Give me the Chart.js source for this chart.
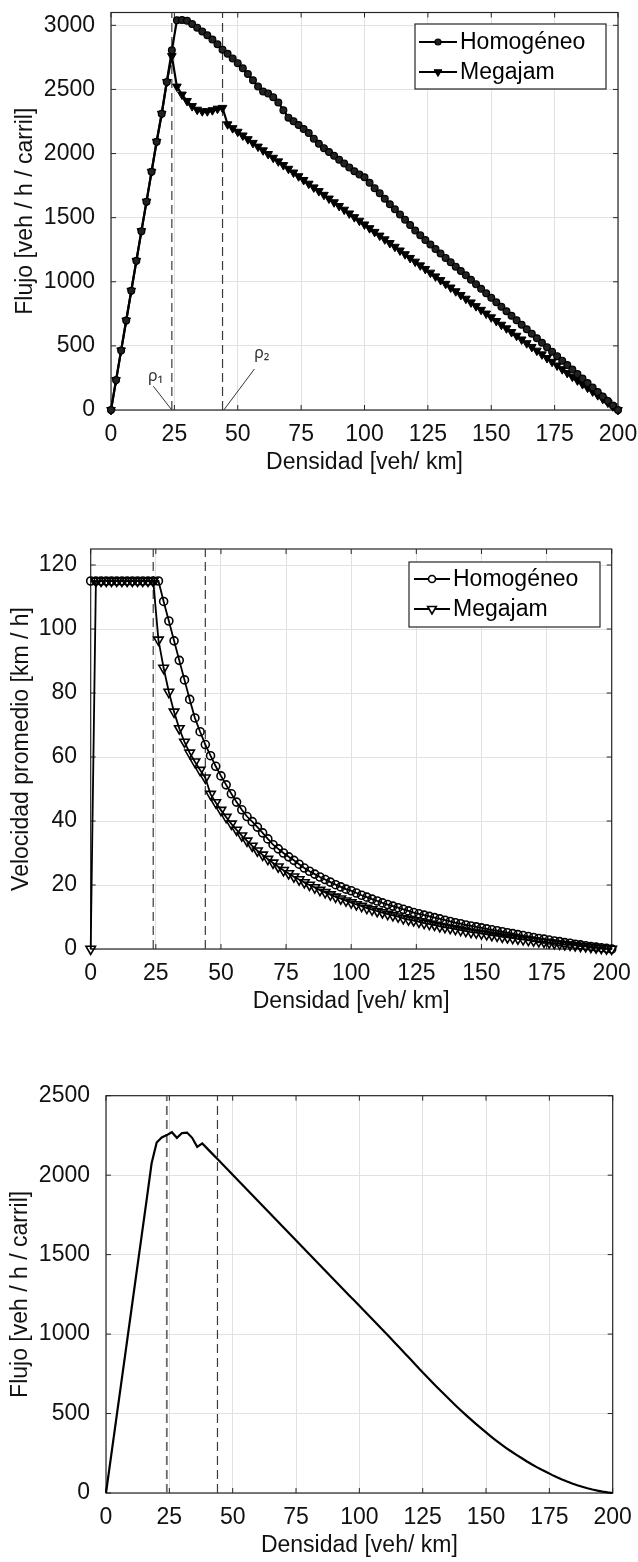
<!DOCTYPE html>
<html><head><meta charset="utf-8">
<script src="https://cdn.jsdelivr.net/npm/chart.js@4.4.1/dist/chart.umd.min.js"></script>
<style>
html,body{margin:0;padding:0;background:#fff;width:638px;height:1562px;overflow:hidden}
canvas{position:absolute;left:0;display:block}
</style></head><body>
<canvas id="c1" width="638" height="490" style="top:0px"></canvas>
<canvas id="c2" width="638" height="540" style="top:490px"></canvas>
<canvas id="c3" width="638" height="532" style="top:1030px"></canvas>
<script>
// ---------- DATA ----------
const densidad = [0,2,4,6,8,10,12,14,16,18,20,22,24,26,28,30,32,34,36,38,40,42,44,46,48,50,52,54,56,58,60,62,64,66,68,70,72,74,76,78,80,82,84,86,88,90,92,94,96,98,100,102,104,106,108,110,112,114,116,118,120,122,124,126,128,130,132,134,136,138,140,142,144,146,148,150,152,154,156,158,160,162,164,166,168,170,172,174,176,178,180,182,184,186,188,190,192,194,196,198,200];

const seriesNombres = ['Homogéneo','Megajam'];

const flujoHomogeneo = [
 0,233,465,698,930,1163,1395,1625,1858,2092,
 2310,2558,2805,3040,3042,3035,3010,2982,2952,2922,
 2890,2852,2810,2778,2742,2705,2665,2620,2572,2522,
 2484,2468,2440,2398,2338,2280,2252,2222,2192,2160,
 2116,2076,2042,2012,1982,1952,1922,1892,1862,1836,
 1815,1772,1730,1690,1648,1605,1565,1524,1484,1443,
 1400,1362,1325,1290,1255,1220,1186,1152,1118,1084,
 1050,1015,980,945,910,875,840,805,770,735,
 700,665,630,595,560,525,490,455,420,385,
 350,315,280,245,210,175,140,105,70,35,
 0];

const flujoMegajam = [
 0,233,465,698,930,1163,1395,1625,1858,2092,
 2310,2558,2760,2522,2460,2410,2370,2342,2330,2330,
 2338,2350,2356,2228,2198,2170,2141,2112,2083,2054,
 2025,1996,1967,1939,1910,1881,1852,1823,1794,1765,
 1736,1707,1678,1649,1620,1591,1562,1533,1504,1476,
 1447,1418,1389,1360,1331,1302,1273,1244,1215,1186,
 1157,1128,1100,1071,1042,1013,984,955,926,897,
 868,839,810,781,752,723,694,665,637,608,
 579,550,521,492,463,434,405,376,347,318,
 289,260,231,202,174,145,116,87,58,29,
 0];

const velHomogeneo = [
 115,115,115,115,115,115,115,115,115,115,
 115,115,115,115,108.6,102.5,96.3,90.2,84.1,78.0,
 72.2,67.9,63.9,60.4,57.1,54.1,51.3,48.5,45.9,43.5,
 41.4,39.8,38.1,36.3,34.4,32.6,31.3,30.0,28.8,27.7,
 26.5,25.3,24.3,23.4,22.5,21.7,20.9,20.1,19.4,18.7,
 18.2,17.5,16.8,16.2,15.6,15.0,14.4,13.9,13.4,12.9,
 12.4,11.9,11.4,11.0,10.6,10.2,9.8,9.4,9.0,8.6,
 8.2,7.9,7.5,7.2,6.9,6.6,6.3,6.0,5.7,5.4,
 5.1,4.8,4.5,4.2,3.9,3.6,3.3,3.1,2.8,2.5,
 2.3,2.0,1.8,1.5,1.3,1.0,0.8,0.6,0.4,0.2,
 0];

const velMegajam = [
 0,115,115,115,115,115,115,115,115,115,
 115,115,115,96.6,87.8,80.3,74.1,68.9,64.7,61.3,
 58.5,55.9,53.5,48.4,45.8,43.4,41.2,39.1,37.2,35.4,
 33.8,32.2,30.7,29.4,28.1,26.9,25.7,24.6,23.6,22.6,
 21.7,20.8,20.0,19.2,18.4,17.7,17.0,16.3,15.7,15.1,
 14.5,13.9,13.4,12.8,12.3,11.8,11.4,10.9,10.5,10.1,
 9.6,9.2,8.9,8.5,8.1,7.8,7.5,7.1,6.8,6.5,
 6.2,5.9,5.6,5.3,5.1,4.8,4.6,4.3,4.1,3.8,
 3.6,3.4,3.2,3.0,2.8,2.6,2.4,2.2,2.0,1.8,
 1.6,1.4,1.3,1.1,0.9,0.8,0.6,0.4,0.3,0.1,
 0];

const flujoPromedio = [
 0,230,460,690,920,1150,1380,1610,1840,2075,
 2205,2237,2252,2270,2235,2265,2268,2235,2178,2200,
 2167,2134,2101,2068,2035,2002,1969,1936,1903,1870,
 1837,1804,1771,1738,1705,1672,1639,1606,1573,1540,
 1507,1474,1441,1408,1375,1342,1309,1276,1243,1211,
 1178,1145,1112,1079,1046,1013,980,946,912,878,
 844,810,776,743,710,677,645,613,582,551,
 521,492,463,435,408,381,355,330,306,283,
 261,240,220,200,181,163,146,130,114,99,
 85,72,60,49,39,30,22,15,9,4,
 0];

const rhoCriticos = [24, 44];
const rhoEtiquetas = ['ρ₁', 'ρ₂'];

const ticksDensidad = [0,25,50,75,100,125,150,175,200];
const ticksFlujo1 = [0,500,1000,1500,2000,2500,3000];
const ticksVel = [0,20,40,60,80,100,120];
const ticksFlujo3 = [0,500,1000,1500,2000,2500];

// ---------- HELPERS ----------
const FONT = '"Liberation Sans", Arial, Helvetica, sans-serif';
Chart.defaults.font.family = FONT;
const pts = ys => densidad.map((d,i)=>({x:d, y:ys[i]}));
const dashSet = (rho, ymax, col, w) => ({
  label:'', data:[{x:rho,y:0},{x:rho,y:ymax}], borderColor:col||'#3a3a3a', borderWidth:w||1.2,
  borderDash:[9,5], pointRadius:0, order:10, clip:false
});

function xScale(){
  return {
    type:'linear', min:0, max:200,
    afterBuildTicks: s => { s.ticks = ticksDensidad.map(v=>({value:v})); },
    ticks:{ padding:0, color:'#111', font:{size:23, lineHeight:1}, maxRotation:0, autoSkip:false, callback:v=>String(v) },
    grid:{ color:'#e1e1e1', lineWidth:1, drawTicks:true, tickLength:13.5, tickColor:'rgba(0,0,0,0)' },
    border:{ display:false },
    title:{ display:true, text:'Densidad [veh/ km]', color:'#111', font:{size:23, lineHeight:1}, padding:{top:0,bottom:0} },
    afterFit: s => { s.height = 64.5; }
  };
}
function yScale(max, tickArr, title, width, tl, tpad){
  return {
    type:'linear', min:0, max:max,
    afterBuildTicks: s => { s.ticks = tickArr.map(v=>({value:v})); },
    ticks:{ padding:0, color:'#111', font:{size:23, lineHeight:1}, autoSkip:false, callback:v=>String(v) },
    grid:{ color:'#e1e1e1', lineWidth:1, drawTicks:true, tickLength:tl, tickColor:'rgba(0,0,0,0)' },
    border:{ display:false },
    title:{ display:true, text:title, color:'#111', font:{size:23, lineHeight:1}, padding:{top:tpad,bottom:0} },
    afterFit: s => { s.width = width; }
  };
}

const framePlugin = {
  id:'marco',
  beforeDatasetsDraw(chart){
    const {ctx, chartArea:a, scales:{x,y}} = chart;
    ctx.save();
    ctx.strokeStyle = '#262626'; ctx.lineWidth = 1.2;
    ctx.strokeRect(a.left, a.top, a.right-a.left, a.bottom-a.top);
    ctx.lineWidth = 1;
    const L = 5;
    ctx.beginPath();
    x.ticks.forEach(t => {
      const px = x.getPixelForValue(t.value);
      ctx.moveTo(px, a.bottom); ctx.lineTo(px, a.bottom-L);
      ctx.moveTo(px, a.top); ctx.lineTo(px, a.top+L);
    });
    y.ticks.forEach(t => {
      const py = y.getPixelForValue(t.value);
      ctx.moveTo(a.left, py); ctx.lineTo(a.left+L, py);
      ctx.moveTo(a.right, py); ctx.lineTo(a.right-L, py);
    });
    ctx.stroke();
    ctx.restore();
  }
};

function drawMarker(ctx, style, r, x, y, fill, stroke, lw){
  ctx.beginPath();
  if (style === 'circle') {
    ctx.arc(x, y, r, 0, Math.PI*2);
  } else {
    for (let k=0;k<3;k++){
      const ang = Math.PI + k*2*Math.PI/3;
      const px = x + Math.sin(ang)*r, py = y - Math.cos(ang)*r;
      if (k===0) ctx.moveTo(px,py); else ctx.lineTo(px,py);
    }
    ctx.closePath();
  }
  ctx.fillStyle = fill; ctx.fill();
  ctx.strokeStyle = stroke; ctx.lineWidth = lw; ctx.stroke();
}

const legendPlugin = {
  id:'cajaLeyenda',
  afterDatasetsDraw(chart, args, o){
    if (!o || !o.box) return;
    const ctx = chart.ctx;
    const [x1,y1,x2,y2] = o.box;
    ctx.save();
    ctx.fillStyle = '#fff'; ctx.fillRect(x1,y1,x2-x1,y2-y1);
    ctx.strokeStyle = '#262626'; ctx.lineWidth = 1.2; ctx.strokeRect(x1,y1,x2-x1,y2-y1);
    const entries = chart.data.datasets.filter(d => d.label);
    entries.forEach((ds, i) => {
      const yy = o.rows[i];
      ctx.beginPath(); ctx.moveTo(o.line[0], yy); ctx.lineTo(o.line[1], yy);
      ctx.strokeStyle = ds.borderColor; ctx.lineWidth = ds.borderWidth; ctx.stroke();
      const mx = (o.line[0]+o.line[1])/2;
      drawMarker(ctx, ds.pointStyle, o.radii[i], mx, yy, o.fill || ds.pointBackgroundColor, ds.pointBorderColor, ds.pointBorderWidth);
      ctx.fillStyle = '#000'; ctx.font = '23px ' + FONT; ctx.textBaseline = 'middle'; ctx.textAlign = 'left';
      ctx.fillText(ds.label, o.textX, yy+1);
    });
    ctx.restore();
  }
};

const rhoPlugin = {
  id:'anotRho',
  afterDatasetsDraw(chart, args, o){
    if (!o || !o.items) return;
    const {ctx, scales:{x,y}} = chart;
    ctx.save();
    o.items.forEach(it => {
      ctx.beginPath();
      ctx.moveTo(x.getPixelForValue(it.from[0]), y.getPixelForValue(it.from[1]));
      ctx.lineTo(x.getPixelForValue(it.to[0]), y.getPixelForValue(it.to[1]));
      ctx.strokeStyle = '#333'; ctx.lineWidth = 1; ctx.stroke();
      ctx.fillStyle = '#333'; ctx.font = '16px "Noto Sans", "DejaVu Sans", sans-serif';
      ctx.textAlign = 'center'; ctx.textBaseline = 'middle';
      ctx.fillText(it.text, x.getPixelForValue(it.at[0]), y.getPixelForValue(it.at[1]));
    });
    ctx.restore();
  }
};

const common = {
  responsive:false, animation:false, devicePixelRatio:1,
  elements:{ line:{ tension:0 } },
};

// ---------- CHART 1 ----------
new Chart(document.getElementById('c1'), {
  type:'line',
  data:{ datasets:[
    { label:seriesNombres[0], data:pts(flujoHomogeneo), borderColor:'#000', borderWidth:2.2,
      pointStyle:'circle', pointRadius:3.4, pointBackgroundColor:'#222', pointBorderColor:'#000', pointBorderWidth:1.2, order:1, clip:false },
    { label:seriesNombres[1], data:pts(flujoMegajam), borderColor:'#000', borderWidth:2.2,
      pointStyle:'triangle', pointRotation:180, pointRadius:5, pointBackgroundColor:'#000', pointBorderColor:'#000', pointBorderWidth:1, order:2, clip:false },
    dashSet(rhoCriticos[0], 3100), dashSet(rhoCriticos[1], 3100)
  ]},
  options:Object.assign({}, common, {
    layout:{ padding:{ top:12.5, right:20, bottom:15.5, left:0 } },
    scales:{ x:xScale(), y:yScale(3100, ticksFlujo1, 'Flujo [veh / h / carril]', 111, 16, 14) },
    plugins:{ legend:{display:false}, tooltip:{enabled:false},
      cajaLeyenda:{ box:[415,24,606,89], rows:[42,72], line:[419,457], radii:[3,4.5], textX:460 },
      anotRho:{ items:[
        { text:rhoEtiquetas[0], at:[17.6,265], from:[16.7,185], to:[rhoCriticos[0],0] },
        { text:rhoEtiquetas[1], at:[59.5,440], from:[56.6,320], to:[rhoCriticos[1]+0.5,0] }
      ]}
    }
  }),
  plugins:[framePlugin, legendPlugin, rhoPlugin]
});

// ---------- CHART 2 ----------
new Chart(document.getElementById('c2'), {
  type:'line',
  data:{ datasets:[
    { label:seriesNombres[0], data:pts(velHomogeneo), borderColor:'#000', borderWidth:1.8,
      pointStyle:'circle', pointRadius:4, pointBackgroundColor:'rgba(255,255,255,0)', pointBorderColor:'#000', pointBorderWidth:1.6, order:1, clip:false },
    { label:seriesNombres[1], data:pts(velMegajam), borderColor:'#000', borderWidth:1.8,
      pointStyle:'triangle', pointRotation:180, pointRadius:5.5, pointBackgroundColor:'rgba(255,255,255,0)', pointBorderColor:'#000', pointBorderWidth:1.6, order:2, clip:false },
    dashSet(rhoCriticos[0], 125), dashSet(rhoCriticos[1], 125)
  ]},
  options:Object.assign({}, common, {
    layout:{ padding:{ top:59, right:26.3, bottom:16.5, left:0 } },
    scales:{ x:xScale(), y:yScale(125, ticksVel, 'Velocidad promedio [km / h]', 90.7, 13.7, 10.5) },
    plugins:{ legend:{display:false}, tooltip:{enabled:false},
      cajaLeyenda:{ box:[409,72,600,137], rows:[89,119], line:[414,450], radii:[3.5,5], textX:453, fill:'#fff' }
    }
  }),
  plugins:[framePlugin, legendPlugin]
});

// ---------- CHART 3 ----------
new Chart(document.getElementById('c3'), {
  type:'line',
  data:{ datasets:[
    { label:'', data:pts(flujoPromedio), borderColor:'#000', borderWidth:2.2, pointRadius:0, order:1, clip:false },
    dashSet(rhoCriticos[0], 2500, '#6a6a6a', 1.8), dashSet(rhoCriticos[1], 2500)
  ]},
  options:Object.assign({}, common, {
    layout:{ padding:{ top:65.7, right:25.3, bottom:4.5, left:0 } },
    scales:{ x:xScale(), y:yScale(2500, ticksFlujo3, 'Flujo [veh / h / carril]', 106, 16, 9) },
    plugins:{ legend:{display:false}, tooltip:{enabled:false} }
  }),
  plugins:[framePlugin]
});
</script>
</body></html>
